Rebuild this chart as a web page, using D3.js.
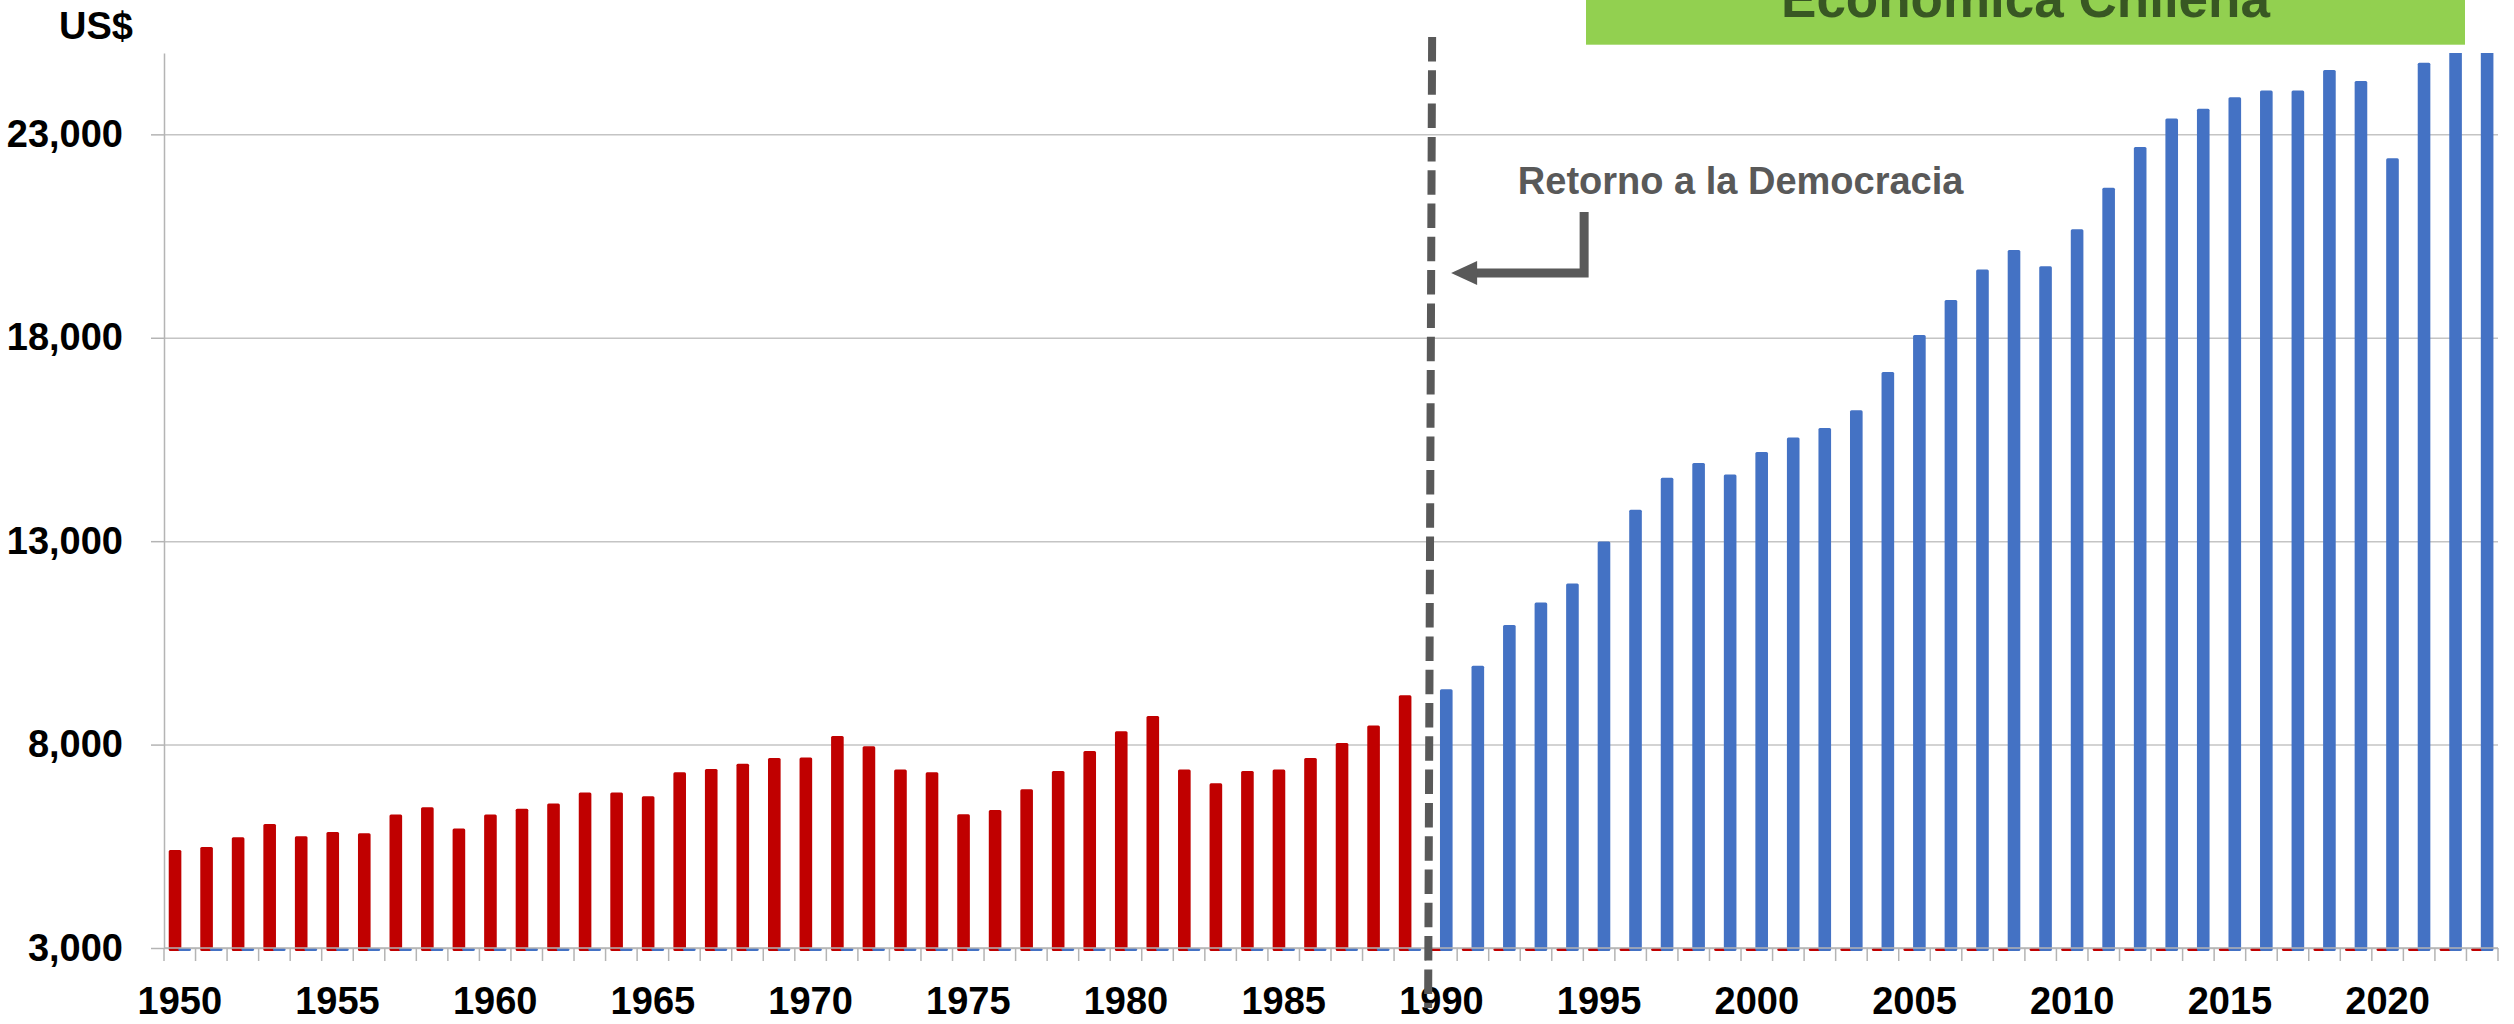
<!DOCTYPE html>
<html>
<head>
<meta charset="utf-8">
<script src="https://cdn.jsdelivr.net/npm/d3@7"></script>
<style>
body { margin: 0; background: #fff; }
svg { display: block; font-family: "Liberation Sans", Arial, sans-serif; font-weight: bold; }
</style>
</head>
<body>
<div id="chart-container"></div>
<script>
// categories
var years = d3.range(1950, 2024);

// PIB per cápita, US$ (1950-1989 rojo, 1990-2023 azul)
var pibAntes = [5410, 5480, 5720, 6050, 5750, 5850, 5820, 6280, 6460, 5940,
	6280, 6420, 6550, 6820, 6820, 6730, 7320, 7400, 7530, 7670,
	7680, 8210, 7960, 7390, 7320, 6290, 6390, 6900, 7350, 7840,
	8330, 8700, 7390, 7050, 7350, 7390, 7670, 8040, 8470, 9210];
var pibDemocracia = [9360, 9940, 10940, 11490, 11960, 12990, 13770, 14560, 14920, 14640,
	15190, 15550, 15780, 16220, 17160, 18070, 18930, 19680, 20160, 19760,
	20670, 21690, 22690, 23390, 23630, 23910, 24080, 24080, 24580, 24310,
	22410, 24760, 25300, 25400];

var yTicks = [3000, 8000, 13000, 18000, 23000];
var xLabelYears = years.filter(function(d) { return d % 5 === 0; });
var yMin = 3000, yMax = 25000;

var data = years.map(function(yr, i) {
	return {
		year: yr,
		rojo: yr < 1990 ? pibAntes[i] : 0,
		azul: yr >= 1990 ? pibDemocracia[i - pibAntes.length] : 0
	};
});

var svgWidth = 2514, svgHeight = 1024;
var margin = { top: 53, right: 16, bottom: 76, left: 164 };
var width = svgWidth - margin.left - margin.right;
var height = svgHeight - margin.top - margin.bottom;

var svg = d3.select("#chart-container").append("svg")
	.attr("width", svgWidth)
	.attr("height", svgHeight);

var g = svg.append("g")
	.attr("transform", "translate(" + margin.left + "," + margin.top + ")");

var x = d3.scaleBand().domain(years).range([0, width]);
var y = d3.scaleLinear().domain([yMin, yMax]).range([height, 0]);
var bw = x.bandwidth();
var barW = bw * 0.4;

// grid
g.append("g")
	.attr("class", "grid")
	.call(d3.axisLeft(y).tickValues(yTicks).tickSize(-width).tickFormat(""))
	.call(function(s) {
		s.select(".domain").remove();
		s.selectAll("line").attr("stroke", "#c4c4c4").attr("stroke-width", 1.5);
	});

g.append("clipPath").attr("id", "clip")
	.append("rect").attr("x", 0).attr("y", 0).attr("width", width).attr("height", height + 10);

var bars = g.append("g").attr("clip-path", "url(#clip)");

// values under the axis minimum still leave a small stub below the baseline
function barY(v) { return y(Math.max(v, yMin)); }
function barH(v) { return y(yMin) - y(Math.max(v, yMin)) + 3; }

bars.selectAll(".rojo")
	.data(data)
	.enter().append("rect")
	.attr("class", "rojo")
	.attr("x", function(d) { return x(d.year) + bw * 0.15; })
	.attr("width", barW)
	.attr("y", function(d) { return barY(d.rojo); })
	.attr("height", function(d) { return barH(d.rojo); })
	.attr("rx", 1.5)
	.attr("fill", "#C00000");

bars.selectAll(".azul")
	.data(data)
	.enter().append("rect")
	.attr("class", "azul")
	.attr("x", function(d) { return x(d.year) + bw * 0.455; })
	.attr("width", barW)
	.attr("y", function(d) { return barY(d.azul); })
	.attr("height", function(d) { return barH(d.azul); })
	.attr("rx", 1.5)
	.attr("fill", "#4472C4");

// y axis
g.append("g")
	.attr("class", "y axis")
	.call(d3.axisLeft(y).tickValues(yTicks).tickSize(13).tickSizeOuter(0).tickPadding(28).tickFormat(d3.format(",")))
	.call(function(s) {
		s.selectAll("line, .domain").attr("stroke", "#b4b4b4").attr("stroke-width", 1.5);
		s.selectAll("text").attr("font-size", 38).attr("fill", "#000")
			.attr("font-family", "Liberation Sans, Arial, sans-serif").attr("font-weight", "bold");
	});

// x axis baseline + category ticks
g.append("line")
	.attr("x1", 0).attr("x2", width)
	.attr("y1", y(yMin)).attr("y2", y(yMin))
	.attr("stroke", "#b4b4b4").attr("stroke-width", 1.5);

g.append("g").selectAll("line")
	.data(d3.range(years.length + 1))
	.enter().append("line")
	.attr("x1", function(i) { return i * x.step(); })
	.attr("x2", function(i) { return i * x.step(); })
	.attr("y1", y(yMin)).attr("y2", y(yMin) + 13)
	.attr("stroke", "#b4b4b4").attr("stroke-width", 1.5);

g.append("g")
	.attr("class", "x axis")
	.attr("transform", "translate(0," + height + ")")
	.call(d3.axisBottom(x).tickValues(xLabelYears).tickSize(0).tickPadding(39))
	.call(function(s) {
		s.select(".domain").remove();
		s.selectAll("text").attr("font-size", 38).attr("fill", "#000")
			.attr("font-family", "Liberation Sans, Arial, sans-serif").attr("font-weight", "bold");
	});

// unit label
svg.append("text")
	.attr("x", 133).attr("y", 39)
	.attr("text-anchor", "end")
	.attr("font-size", 38)
	.attr("fill", "#000")
	.text("US$");

// vertical dashed line at 1990
var x90 = x(1990);
g.append("line")
	.attr("x1", x90 + 6.5).attr("y1", 37 - margin.top)
	.attr("x2", x90 + 2.5).attr("y2", 1008 - margin.top)
	.attr("stroke", "#595959")
	.attr("stroke-width", 8)
	.attr("stroke-dasharray", "24.5 8.8");

// annotation
g.append("text")
	.attr("x", x90 + 315).attr("y", 194 - margin.top)
	.attr("text-anchor", "middle")
	.attr("font-size", 38)
	.attr("fill", "#595959")
	.text("Retorno a la Democracia");

var tipX = x90 + 25.5, armY = 273 - margin.top;
g.append("path")
	.attr("d", "M" + (x90 + 158.5) + "," + (212 - margin.top) + "V" + armY + "H" + (tipX + 22))
	.attr("fill", "none")
	.attr("stroke", "#595959")
	.attr("stroke-width", 9);
g.append("path")
	.attr("d", "M" + tipX + "," + armY + "L" + (tipX + 26) + "," + (armY - 12) + "L" + (tipX + 26) + "," + (armY + 12) + "Z")
	.attr("fill", "#595959");

// green title box (cut at top, as in the original)
svg.append("rect")
	.attr("x", 1586).attr("y", -10)
	.attr("width", 2465 - 1586).attr("height", 44.7 + 10)
	.attr("fill", "#92D050");
svg.append("text")
	.attr("x", (1586 + 2465) / 2).attr("y", 17)
	.attr("text-anchor", "middle")
	.attr("font-size", 53)
	.attr("fill", "#385723")
	.text("Económica Chilena");
</script>
</body>
</html>
